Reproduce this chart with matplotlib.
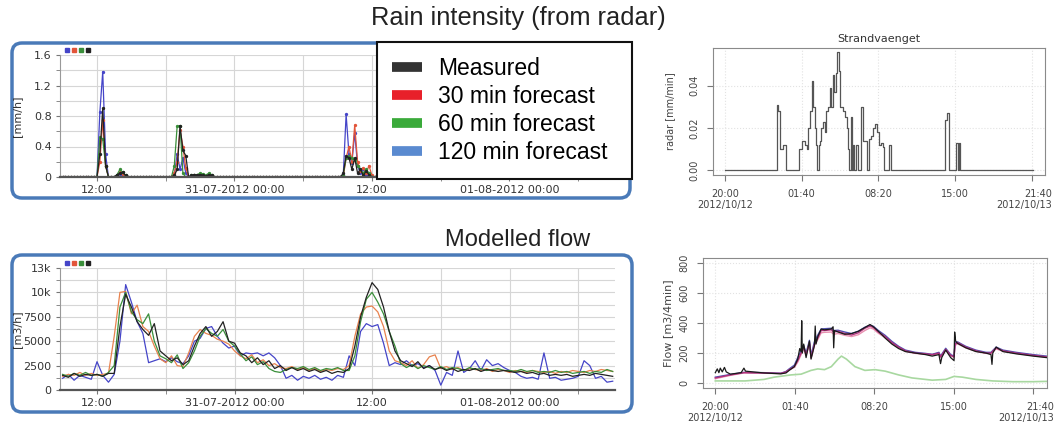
import numpy as np
import matplotlib.pyplot as plt
from matplotlib.patches import FancyBboxPatch
from matplotlib.lines import Line2D
from matplotlib.transforms import ScaledTranslation

W, H = 1056, 425

# ---- rain intensity (left top), 15 min grid, hours from 30-07-2012 00:00
rain_step = 0.25
rain_first, rain_last = 8.75, 57.25
ev_start = [12.0, 13.75, 18.5, 20.75, 33.5]
rain_blue = [[0, 0.85, 1.38, 0.30, 0], [0.02, 0.04, 0.02, 0],
             [0, 0.02, 0.30, 0.10, 0.25, 0.05, 0, 0.01, 0.02],
             [0.01, 0.02, 0.01, 0, 0.02, 0.01],
             [0.02, 0.82, 0.30, 0.18, 0.58, 0.15, 0.05, 0.10, 0.02, 0.05, 0, 0]]
rain_red = [[0, 0.20, 0.75, 0.15, 0], [0.02, 0.06, 0.04, 0.01],
            [0, 0.05, 0.20, 0.62, 0.40, 0.12, 0, 0.01, 0.02],
            [0.01, 0.03, 0.02, 0.01, 0.02, 0.01],
            [0, 0.25, 0.40, 0.20, 0.68, 0.20, 0.08, 0.12, 0.05, 0.15, 0.02, 0]]
rain_green = [[0, 0.52, 0.50, 0.15, 0], [0.03, 0.10, 0.06, 0.02],
              [0, 0.15, 0.67, 0.67, 0.05, 0, 0, 0.02, 0.03],
              [0.03, 0.05, 0.04, 0.02, 0.05, 0.03],
              [0.03, 0.25, 0.27, 0.25, 0.22, 0.15, 0.10, 0.05, 0.10, 0.05, 0, 0]]
rain_meas = [[0, 0.30, 0.90, 0.15, 0], [0.03, 0.05, 0.06, 0.02],
             [0, 0.02, 0.10, 0.67, 0.35, 0.28, 0, 0.02, 0.03],
             [0.02, 0.03, 0.02, 0.01, 0.03, 0.02],
             [0.05, 0.28, 0.25, 0.10, 0.25, 0.05, 0.10, 0.02, 0.08, 0.03, 0, 0]]

# ---- modelled flow (left bottom), 30 min values from 09:00 on 30-07
flow_start, flow_step = 9.0, 0.5
flow_meas = [1500, 1300, 1700, 1400, 1600, 1500, 1600, 1400, 1700, 1700, 6500, 9800,
             8500, 7000, 6200, 5600, 6800, 4000, 3500, 3000, 3300, 2600, 3000, 4500,
             5800, 6500, 5500, 6000, 7000, 5000, 4800, 3800, 3500, 2800, 3300, 2600,
             3000, 2200, 2500, 2000, 2300, 2000, 2200, 1900, 2100, 1800, 2000, 1700,
             1900, 1800, 2200, 4500, 7500, 9500, 11000, 10300, 8500, 6000, 4000, 3000,
             2700, 2400, 2900, 2200, 2500, 2100, 2300, 2000, 2200, 1900, 2100, 2000,
             2200, 1900, 2100, 2000, 1900, 2000, 1900, 1800, 1900, 1700, 1800, 1600,
             1700, 1500, 1600, 1500, 1600, 1400, 1500, 1600, 1500, 1700, 1600, 1500, 1400]
flow_30 = [1400, 1600, 1500, 1800, 1500, 1700, 1500, 1600, 1700, 5500, 10000, 10100,
           7800, 8700, 6500, 6000, 4500, 3200, 2800, 3500, 2500, 2400, 3800, 5500,
           6200, 5800, 5600, 5200, 5000, 4700, 4000, 3500, 3200, 3600, 2800, 3100,
           2500, 2700, 2300, 2200, 2400, 2100, 2300, 2000, 2200, 1900, 2100, 2000,
           2200, 2100, 2500, 5500, 7800, 8500, 8600, 8000, 6500, 4000, 3000, 2800,
           2500, 3000, 2200, 2600, 3400, 3600, 2200, 2400, 2100, 2300, 2000, 2200,
           2100, 2000, 2200, 1900, 2100, 2000, 1800, 2000, 1900, 1800, 2000, 1900,
           1800, 1900, 1700, 1900, 1800, 2000, 1900, 1800, 2000, 1900, 2100, 2000, 1900]
flow_60 = [1600, 1400, 1700, 1500, 1800, 1500, 1600, 1400, 1800, 2500, 8500, 10000,
           8000, 7200, 6800, 7800, 5000, 3500, 3200, 2800, 3600, 2200, 2800, 4000,
           5500, 6300, 5800, 5500, 6200, 5000, 4500, 3700, 3000, 3400, 2600, 2900,
           2200, 1900, 1800, 2100, 2300, 2200, 2400, 2100, 2300, 2000, 2200, 2100,
           2300, 2000, 2000, 3500, 7000, 9300, 10000, 9000, 7800, 6000, 4500, 2700,
           2300, 2600, 2200, 2500, 2300, 2100, 2400, 2100, 2300, 2200, 2000, 2300,
           2100, 2200, 2000, 2100, 2200, 2000, 2000, 1900, 2100, 1900, 2000, 1800,
           1900, 1800, 2000, 1800, 1900, 1700, 1800, 1900, 1700, 1900, 1800, 2100, 1900]
flow_120 = [1200, 1600, 1000, 1500, 1300, 1100, 2900, 1500, 800, 1600, 5000, 10800,
            9000, 7000, 5800, 2800, 3000, 3200, 2900, 3300, 2900, 2700, 3500, 5000,
            5300, 6300, 6500, 5500, 4800, 4300, 4500, 3500, 3800, 3700, 3800, 3500,
            3800, 3300, 2500, 1200, 1500, 1000, 1400, 1200, 1500, 1100, 1300, 1000,
            1500, 1300, 3500, 2500, 6000, 6800, 6500, 6700, 4800, 2500, 2800, 2600,
            3000, 2500, 2700, 2300, 2500, 2000, 500, 1800, 1500, 4000, 1800, 2200,
            3000, 2000, 3100, 2500, 2700, 2300, 2000, 1800, 1400, 1200, 1300, 1100,
            3800, 1200, 1300, 1000, 1100, 1200, 1400, 3000, 2500, 1200, 1400, 800, 900]

# ---- Strandvaenget radar (right top), minutes from 20:00
radar_min = [0, 270, 278, 290, 304, 318, 388, 400, 417, 426, 435, 443, 454, 461, 470, 475,
             482, 489, 496, 504, 513, 522, 530, 539, 548, 556, 562, 570, 579, 586, 597, 603,
             614, 626, 635, 643, 649, 656, 663, 670, 676, 683, 692, 708, 718, 739, 744, 753,
             763, 774, 784, 795, 802, 812, 823, 830, 857, 868, 1148, 1160, 1170, 1205, 1214,
             1221, 1229, 1609]
radar_val = [0, 0.031, 0.028, 0.010, 0.012, 0, 0.010, 0.014, 0.012, 0.010, 0.020, 0.028,
             0.042, 0.030, 0.020, 0.012, 0, 0.012, 0.014, 0.020, 0.023, 0.018, 0.028, 0.030,
             0.039, 0.030, 0.045, 0.037, 0.046, 0.056, 0.047, 0.030, 0.028, 0.025, 0.020,
             0.010, 0, 0.025, 0, 0.012, 0, 0.012, 0, 0.030, 0.014, 0.013, 0, 0.015, 0.016,
             0.020, 0.022, 0.018, 0.012, 0.013, 0.011, 0, 0.012, 0, 0.024, 0.027, 0, 0.013,
             0, 0.013, 0, 0]

# ---- flow at Strandvaenget (right bottom), minutes from 20:00
q_model_min = [0, 76, 144, 245, 330, 356, 372, 398, 415, 432, 445, 457, 474, 482, 499, 516,
               533, 550, 584, 596, 618, 652, 686, 720, 753, 779, 796, 821, 855, 889, 923,
               957, 1007, 1058, 1092, 1126, 1134, 1160, 1185, 1202, 1207, 1219, 1261, 1312,
               1363, 1388, 1414, 1448, 1515, 1600, 1668]
q_magenta = [35, 55, 70, 68, 65, 75, 90, 110, 150, 200, 240, 190, 270, 170, 260, 300, 350,
             350, 355, 340, 345, 330, 320, 335, 365, 380, 370, 340, 310, 270, 240, 215, 200,
             195, 190, 200, 175, 225, 185, 175, 260, 270, 240, 215, 200, 200, 235, 215, 200,
             185, 175]
q_blue = [40, 58, 72, 70, 66, 78, 95, 120, 170, 215, 250, 200, 285, 185, 275, 320, 360, 362,
          365, 350, 352, 340, 330, 345, 372, 385, 378, 350, 318, 278, 245, 220, 205, 198,
          192, 205, 180, 232, 190, 180, 265, 275, 245, 220, 205, 205, 240, 220, 205, 190, 180]
q_pink = [30, 52, 68, 66, 64, 72, 88, 105, 140, 190, 230, 185, 260, 165, 250, 290, 335, 338,
          340, 325, 330, 318, 310, 322, 350, 368, 360, 332, 302, 265, 236, 212, 198, 192,
          188, 196, 172, 220, 182, 172, 250, 262, 235, 212, 198, 197, 228, 212, 198, 183, 172]
q_meas_min = [0, 10, 18, 25, 35, 46, 55, 76, 130, 144, 152, 245, 330, 356, 372, 398, 415, 425,
              432, 435, 438, 445, 457, 474, 482, 499, 503, 507, 516, 533, 550, 584, 593, 596,
              600, 618, 652, 686, 720, 753, 779, 796, 821, 855, 889, 923, 957, 1007, 1058,
              1092, 1126, 1134, 1140, 1160, 1185, 1202, 1205, 1210, 1219, 1261, 1312, 1363,
              1388, 1393, 1397, 1414, 1448, 1515, 1600, 1668]
q_meas = [70, 95, 70, 100, 75, 105, 75, 60, 70, 100, 80, 68, 62, 68, 85, 110, 160, 230, 210,
          415, 200, 260, 170, 280, 160, 250, 380, 260, 310, 360, 355, 360, 375, 235, 350, 340,
          325, 330, 345, 370, 390, 375, 345, 300, 260, 230, 210, 200, 190, 180, 190, 130, 170,
          220, 170, 150, 340, 280, 265, 235, 210, 200, 190, 125, 200, 240, 210, 195, 180, 170]
q_green_min = [0, 150, 245, 296, 381, 432, 482, 516, 550, 584, 618, 635, 660, 703, 753, 804,
               855, 923, 990, 1092, 1160, 1202, 1244, 1312, 1397, 1498, 1600, 1668]
q_green = [15, 15, 25, 40, 55, 60, 85, 95, 90, 110, 160, 180, 160, 110, 85, 90, 80, 55, 35,
           20, 25, 45, 40, 25, 15, 10, 10, 12]

left_ticks = [12, 24, 36, 48]
left_ticklabels = ['12:00', '31-07-2012 00:00', '12:00', '01-08-2012 00:00']
right_ticks = [0, 400, 800, 1200, 1600]
right_ticklabels = ['20:00\n2012/10/12', '01:40', '08:20', '15:00', '21:40\n2012/10/13']

col_blue, col_red, col_green, col_black = '#4545c8', '#e2553a', '#3a8f3a', '#222222'


def px(l, t, r, b):
    return [l / W, 1 - b / H, (r - l) / W, (b - t) / H]


fig = plt.figure(figsize=(W / 100, H / 100), dpi=100)

# rounded blue frames round the two left panels
for l, t, r, b in [(12, 43, 630, 198), (12, 255, 632, 412)]:
    fr = FancyBboxPatch((l / W, 1 - b / H), (r - l) / W, (b - t) / H,
                        boxstyle='round,pad=0,rounding_size=%f' % (10 / W),
                        mutation_aspect=W / H, transform=fig.transFigure,
                        ec='#4a7ab8', fc='white', lw=2.5, zorder=-1)
    fig.add_artist(fr)


def style_left(ax, xmin, xmax):
    ax.set_xlim(xmin, xmax)
    ax.set_xticks(left_ticks)
    ax.set_xticklabels(left_ticklabels)
    ax.set_xticks([18, 30, 42, 54], minor=True)
    ax.grid(True, which='both', color='#d6d6d6', lw=0.8)
    ax.set_axisbelow(True)
    for s in ['top', 'right']:
        ax.spines[s].set_visible(False)
    ax.spines['left'].set_color('#999999')
    ax.spines['bottom'].set_color('#555555')
    ax.spines['bottom'].set_linewidth(1.6)
    ax.tick_params(which='both', length=3, pad=3, labelsize=8, labelcolor='#333333',
                   color='#777777')
    ax.set_facecolor('none')
    ax.yaxis.set_label_coords(-38 / 557, 0.5)
    # series colour dots at the top left corner
    for i, c in enumerate([col_blue, col_red, col_green, col_black]):
        ax.plot([0.012 + 0.013 * i], [1.04], 's', ms=2.8, color=c,
                transform=ax.transAxes, clip_on=False)


# ---- top left: rain
ax1 = fig.add_axes(px(60, 55, 617, 177))
rain_t = np.arange(rain_first, rain_last + 0.01, rain_step)
for ev, col in [(rain_blue, col_blue), (rain_red, col_red), (rain_green, col_green),
                (rain_meas, col_black)]:
    y = np.zeros(len(rain_t))
    for st, vals in zip(ev_start, ev):
        i0 = int(round((st - rain_first) / rain_step))
        y[i0:i0 + len(vals)] = vals
    ax1.plot(rain_t, y, '-o', color=col, lw=0.9, ms=2.4, mew=0)
ax1.set_ylim(0, 1.6)
ax1.set_yticks([0, 0.4, 0.8, 1.2, 1.6])
ax1.set_yticklabels(['0', '0.4', '0.8', '1.2', '1.6'])
ax1.set_yticks([0.2, 0.6, 1.0, 1.4], minor=True)
style_left(ax1, 8.77, 57.4)
ax1.set_ylabel('[mm/h]', fontsize=8, color='#333333')

# ---- bottom left: flow
ax2 = fig.add_axes(px(60, 268, 615, 390))
for ser, col in [(flow_120, col_blue), (flow_30, '#e8824e'), (flow_60, col_green),
                 (flow_meas, col_black)]:
    t = flow_start + flow_step * np.arange(len(ser))
    ax2.plot(t, ser, color=col, lw=0.9)
ax2.set_ylim(0, 12500)
ax2.set_yticks([0, 2500, 5000, 7500, 10000, 12500])
ax2.set_yticklabels(['0', '2500', '5000', '7500', '10k', '13k'])
ax2.set_yticks([1250, 3750, 6250, 8750, 11250], minor=True)
style_left(ax2, 8.77, 57.2)
ax2.set_ylabel('[m3/h]', fontsize=8, color='#333333')


def style_right(ax):
    for s in ax.spines.values():
        s.set_color('#8a8a8a')
        s.set_linewidth(0.8)
    ax.set_xlim(-62, 1670)
    ax.set_xticks(right_ticks)
    ax.set_xticklabels(right_ticklabels)
    ax.grid(True, color='#e2e2e2', ls=':', lw=0.8)
    ax.tick_params(length=4, pad=6, labelsize=7, labelcolor='#444444', color='#777777')
    ax.tick_params(axis='y', labelrotation=90)
    for lab in ax.get_yticklabels():
        lab.set_va('center')
    # last date label sits against the right edge, as in the original
    last = ax.get_xticklabels()[-1]
    last.set_multialignment('right')
    last.set_transform(last.get_transform() + ScaledTranslation(-7 / 100, 0, fig.dpi_scale_trans))


# ---- top right: radar
ax3 = fig.add_axes(px(713, 48, 1045, 175))
ax3.step(radar_min, radar_val, where='post', color='#555555', lw=0.9)
ax3.set_ylim(-0.0022, 0.0578)
ax3.set_yticks([0, 0.02, 0.04])
ax3.set_yticklabels(['0.00', '0.02', '0.04'])
style_right(ax3)
ax3.set_title('Strandvaenget', fontsize=8, color='#333333', pad=4)
ax3.set_ylabel('radar [mm/min]', fontsize=7, color='#444444', labelpad=10)

# ---- bottom right: flow
ax4 = fig.add_axes(px(703, 258, 1047, 388))
ax4.plot(q_green_min, q_green, color='#a8d8a0', lw=1.2)
ax4.plot(q_model_min, q_pink, color='#e890b0', lw=1.0)
ax4.plot(q_model_min, q_blue, color='#5050b0', lw=1.0)
ax4.plot(q_model_min, q_magenta, color='#b0307a', lw=1.0)
ax4.plot(q_meas_min, q_meas, color='#1a1a1a', lw=0.9)
ax4.set_ylim(-32, 832)
ax4.set_yticks([0, 200, 400, 600, 800])
style_right(ax4)
ax4.set_ylabel('Flow [m3/4min]', fontsize=8, color='#444444')

# ---- headings
fig.text(518 / W, 1 - 18 / H, 'Rain intensity (from radar)', ha='center', va='center',
         fontsize=18.3, family='Liberation Sans', color='#222222')
fig.text(518 / W, 1 - 240 / H, 'Modelled flow', ha='center', va='center',
         fontsize=17, family='Liberation Sans', color='#222222')

# ---- legend box
handles = [Line2D([0], [0], color=c, lw=7, solid_capstyle='butt')
           for c in ['#333333', '#e8202a', '#3aaa3a', '#5a8ad0']]
labels = ['Measured', '30 min forecast', '60 min forecast', '120 min forecast']
leg = fig.legend(handles, labels, loc='upper left', mode='expand',
                 bbox_to_anchor=(377 / W, 1 - 178 / H, 255 / W, 136 / H),
                 bbox_transform=fig.transFigure, prop={'family': 'Liberation Sans', 'size': 16.5},
                 frameon=True, fancybox=False, edgecolor='#111111', framealpha=1,
                 borderpad=0.65, labelspacing=0.22, handlelength=1.3, handletextpad=0.7,
                 borderaxespad=0)
leg.get_frame().set_linewidth(1.5)

fig.savefig('out.png', dpi=100)
